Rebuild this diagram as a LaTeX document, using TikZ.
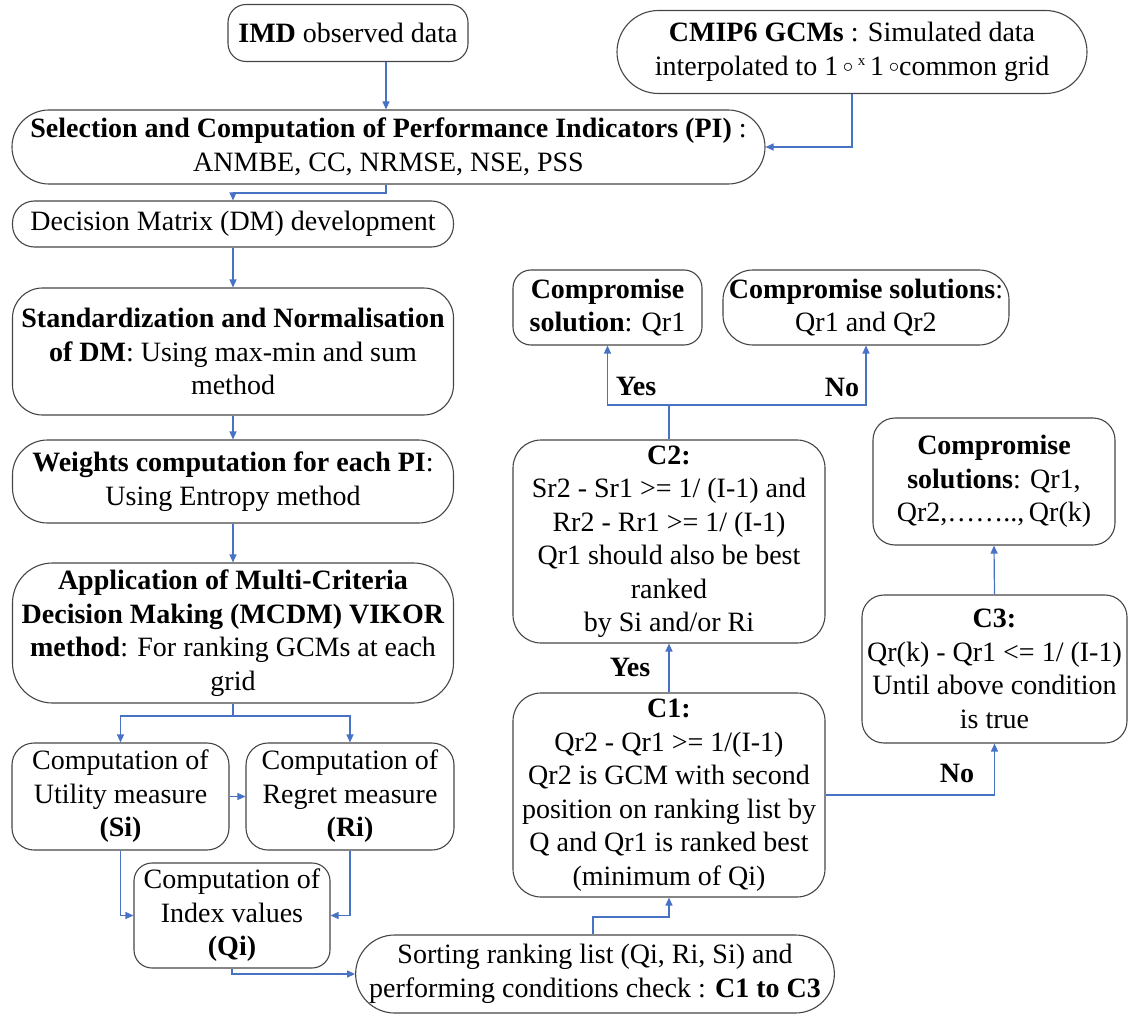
\documentclass[tikz,border=0pt]{standalone}
\usepackage{fontspec}
\setmainfont{Liberation Serif}
\usetikzlibrary{arrows.meta,shapes.misc}
\definecolor{arrowblue}{RGB}{72,114,196}
\definecolor{boxgray}{RGB}{70,70,70}
\newcommand{\smallcirc}{\raisebox{0.25ex}{\fontsize{20}{20}\selectfont$\circ$}}
\newcommand{\smallx}{\raisebox{0.8ex}{\fontsize{15}{15}\selectfont x}}
\begin{document}
\begin{tikzpicture}[x=1pt,y=-1pt,
  txt/.style={font=\fontsize{28}{33.5}\selectfont},
  box/.style={draw=boxgray, line width=1.1pt, rectangle, rounded corners=#1, align=center, inner sep=0pt, txt},
  box/.default=20pt,
  pill/.style={draw=boxgray, line width=1.1pt, rounded rectangle, align=center, inner sep=0pt, txt},
  ln/.style={draw=arrowblue, line width=1.2pt},
  arr/.style={ln, -{Triangle[length=8pt,width=7pt]}},
  lbl/.style={font=\bfseries\fontsize{28}{33.5}\selectfont, inner sep=0pt}
]
\useasboundingbox (0,0) rectangle (1133,1014);
\fill[white] (0,0) rectangle (1133,1014);

% top row
\node[box=18pt, minimum width=240pt, minimum height=57pt] (imd) at (348,33) {\textbf{IMD} observed data};
\node[pill, minimum width=470pt, minimum height=83pt] (cmip) at (852,52)
  {\textbf{CMIP6 GCMs} : Simulated data\\interpolated to 1\,\smallcirc\,\smallx\,1\,\smallcirc common grid};
\node[pill, minimum width=753pt, minimum height=74pt] (sel) at (388.5,147)
  {\textbf{Selection and Computation of Performance Indicators (PI)} :\\ANMBE, CC, NRMSE, NSE, PSS};

% left column
\node[box=22pt, minimum width=441pt, minimum height=46pt] (dm) at (233,224) {Decision Matrix (DM) development};
\node[box=30pt, minimum width=441pt, minimum height=127pt] (std) at (233,351.5)
  {\textbf{Standardization and Normalisation}\\\textbf{of DM}: Using max-min and sum\\method};
\node[box=35pt, minimum width=441pt, minimum height=83pt] (wts) at (233,481.5)
  {\textbf{Weights computation for each PI}:\\Using Entropy method};
\node[box=40pt, minimum width=441pt, minimum height=140pt] (app) at (233,633)
  {\textbf{Application of Multi-Criteria}\\\textbf{Decision Making (MCDM) VIKOR}\\\textbf{method}: For ranking GCMs at each\\grid};
\node[box=22pt, minimum width=217pt, minimum height=107pt] (si) at (120.5,796.5)
  {Computation of\\Utility measure\\\textbf{(Si)}};
\node[box=22pt, minimum width=208pt, minimum height=107pt] (ri) at (350,796.5)
  {Computation of\\Regret measure\\\textbf{(Ri)}};
\node[box=18pt, minimum width=196pt, minimum height=105pt] (qi) at (232,915.5)
  {Computation of\\Index values\\\textbf{(Qi)}};
\node[pill, minimum width=466pt, minimum height=78pt] (sort) at (595,974)
  {Sorting ranking list (Qi, Ri, Si) and\\performing conditions check : \textbf{C1 to C3}};

% middle column
\node[box=28pt, minimum width=312pt, minimum height=204pt] (c1) at (669,795)
  {\textbf{C1:}\\Qr2 - Qr1 >= 1/(I-1)\\Qr2 is GCM with second\\position on ranking list by\\Q and Qr1 is ranked best\\(minimum of Qi)};
\node[box=28pt, minimum width=312pt, minimum height=203pt] (c2) at (669,541.5)
  {\textbf{C2:}\\Sr2 - Sr1 >= 1/ (I-1) and\\Rr2 - Rr1 >= 1/ (I-1)\\Qr1 should also be best\\ranked\\by Si and/or Ri};
\node[box=18pt, minimum width=189pt, minimum height=75pt] (cs1) at (607.5,307.5)
  {\textbf{Compromise}\\\textbf{solution}: Qr1};
\node[box=30pt, minimum width=286pt, minimum height=75pt] (cs2) at (866,307.5)
  {\textbf{Compromise solutions}:\\Qr1 and Qr2};

% right column
\node[box=22pt, minimum width=242pt, minimum height=127pt] (cs3) at (994,481.5)
  {\textbf{Compromise}\\\textbf{solutions}: Qr1,\\Qr2,……..,\,Qr(k)};
\node[box=22pt, minimum width=265pt, minimum height=148pt] (c3) at (994.5,669)
  {\textbf{C3:}\\Qr(k) - Qr1 <= 1/ (I-1)\\Until above condition\\is true};

% connectors
\coordinate (xa) at (386,0);
\coordinate (xb) at (852,0);
\coordinate (jdm) at (386,193);
\draw[arr] (imd.south -| xa) -- (sel.north -| xa);
\draw[arr] (cmip.south -| xb) |- (sel.east);
\draw[arr] (sel.south -| xa) -- (jdm) -| (dm.north);
\draw[arr] (dm.south) -- (std.north);
\draw[arr] (std.south) -- (wts.north);
\draw[arr] (wts.south) -- (app.north);
\coordinate (ja) at (233,716);
\draw[ln] (app.south) -- (ja);
\draw[arr] (ja) -| (si.north);
\draw[arr] (ja) -| (ri.north);
\draw[arr] (si.east) -- (ri.west);
\draw[arr] (si.south) |- (qi.west);
\draw[arr] (ri.south) |- (qi.east);
\draw[arr] (qi.south) |- (sort.west);
\coordinate (js) at (593,917);
\draw[arr] (sort.north -| js) -- (js) -| (c1.south);
\draw[arr] (c1.north) -- (c2.south);
\coordinate (jc) at (669,405);
\draw[ln] (c2.north) -- (jc);
\draw[arr] (jc) -| (cs1.south);
\draw[arr] (jc) -| (cs2.south);
\draw[arr] (c1.east) -| (c3.south);
\draw[arr] (c3.north) -- (cs3.south);

% labels
\node[lbl] (yes1) at (630,667) {Yes};
\node[lbl] (yes2) at (636,386) {Yes};
\node[lbl] (no1) at (842,387) {No};
\node[lbl] (no2) at (957,773) {No};
\end{tikzpicture}
\end{document}
